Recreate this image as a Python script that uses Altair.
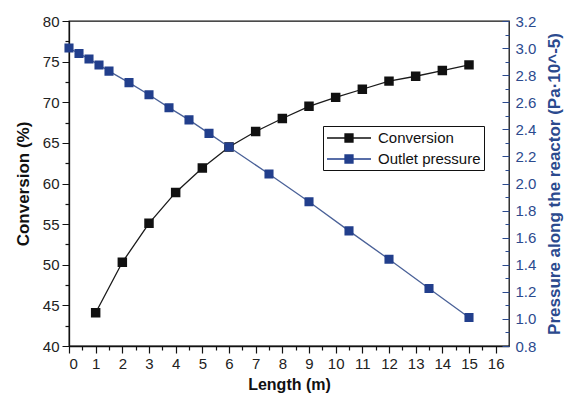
import altair as alt
import pandas as pd

# ---- data ----
length_conv = [1, 2, 3, 4, 5, 6, 7, 8, 9, 10, 11, 12, 13, 14, 15]
conversion = [44.1, 50.3, 55.1, 58.9, 61.9, 64.5, 66.4, 68.0, 69.5, 70.6, 71.6, 72.6, 73.2, 73.9, 74.6]

length_pres = [0, 0.375, 0.75, 1.125, 1.5, 2.25, 3, 3.75, 4.5, 5.25, 6, 7.5, 9, 10.5, 12, 13.5, 15]
pressure = [3.0, 2.96, 2.92, 2.875, 2.83, 2.745, 2.655, 2.56, 2.47, 2.37, 2.27, 2.07, 1.865, 1.65, 1.44, 1.225, 1.01]

series_names = ["Conversion", "Outlet pressure"]
x_ticks = [i * 0.5 for i in range(33)]
conv_ticks = [40 + i * 2.5 for i in range(17)]
pres_ticks = [round(0.8 + i * 0.1, 1) for i in range(25)]

BLUE = "#223f8c"
BLUE_LINE = "#4a6198"
BLUE_TEXT = "#2b4a8e"
FONT = "Liberation Sans"

conv_df = pd.DataFrame({"length": length_conv, "value": conversion, "series": series_names[0]})
pres_df = pd.DataFrame({"length": length_pres, "value": pressure, "series": series_names[1]})

x_enc = alt.X(
    "length:Q",
    scale=alt.Scale(domain=[0, 16.5], nice=False, zero=False),
    axis=alt.Axis(
        title="Length (m)",
        values=x_ticks,
        labelExpr="datum.value % 1 === 0 ? format(datum.value, 'd') : ''",
        labelOverlap=False,
        tickSize=7,
        tickDash={"condition": {"test": "datum.value % 1 === 0", "value": [1, 0]}, "value": [4, 20]},
        labelPadding=3,
        titlePadding=5,
        grid=False,
    ),
)

sym_path = "M-1,0H1.25M2.25,0H4.5M1.25,-0.5H2.25V0.5H1.25Z"
fill_scale = alt.Scale(domain=series_names, range=["#111111", BLUE])
legend = alt.Legend(
    title=None,
    orient="none",
    legendX=254,
    legendY=105,
    symbolType=sym_path,
    symbolSize=256,
    symbolStrokeWidth=1.3,
    symbolOpacity=1,
    labelOffset=34,
    labelFontSize=15,
    labelFont=FONT,
    labelColor="#111111",
    rowPadding=4,
    padding=3,
    strokeColor="#111111",
    fillColor="white",
)

# ---- conversion (left axis) ----
conv_y = alt.Y(
    "value:Q",
    scale=alt.Scale(domain=[40, 80], nice=False, zero=False),
    axis=alt.Axis(
        title="Conversion (%)",
        orient="left",
        values=conv_ticks,
        labelExpr="datum.value % 5 === 0 ? format(datum.value, 'd') : ''",
        labelOverlap=False,
        tickSize=7,
        tickDash={"condition": {"test": "datum.value % 5 === 0", "value": [1, 0]}, "value": [4, 20]},
        labelPadding=3,
        titlePadding=10,
        titleFontSize=17,
        grid=False,
    ),
)
conv_base = alt.Chart(conv_df).encode(x=x_enc, y=conv_y)
conv_layer = alt.layer(
    conv_base.mark_line(color="#1a1a1a", strokeWidth=1.3),
    conv_base.mark_square(size=56, opacity=1, filled=True).encode(
        fill=alt.Fill("series:N", scale=fill_scale, legend=legend),
        stroke=alt.Stroke("series:N", scale=fill_scale, legend=legend),
    ),
)

# ---- pressure (right axis, ticks pointing inward) ----
pres_y = alt.Y(
    "value:Q",
    scale=alt.Scale(domain=[0.8, 3.2], nice=False, zero=False),
    axis=alt.Axis(
        title="Pressure along the reactor (Pa·10^-5)",
        orient="right",
        values=pres_ticks,
        labelExpr="round(datum.value * 10) % 2 === 0 ? format(datum.value, '.1f') : ''",
        labelOverlap=False,
        offset=-7,
        tickSize=7,
        tickDash={"condition": {"test": "round(datum.value * 10) % 2 === 0", "value": [1, 0]},
                  "value": [0, 3, 4, 20]},
        domain=False,
        labelPadding=6,
        labelColor=BLUE_TEXT,
        tickColor=BLUE_TEXT,
        titleColor=BLUE_TEXT,
        titleAngle=270,
        titleFontSize=17,
        titlePadding=28,
        grid=False,
    ),
)
pres_base = alt.Chart(pres_df).encode(x=x_enc, y=pres_y)
pres_layer = alt.layer(
    pres_base.mark_line(color=BLUE_LINE, strokeWidth=1.3),
    pres_base.mark_square(size=50, opacity=1, filled=True).encode(
        fill=alt.Fill("series:N", scale=fill_scale, legend=legend),
        stroke=alt.Stroke("series:N", scale=fill_scale, legend=legend),
    ),
)

chart = (
    alt.layer(conv_layer, pres_layer)
    .resolve_scale(y="independent")
    .properties(
        width=440,
        height=325,
        autosize=alt.AutoSizeParams(type="none"),
        padding={"left": 61, "top": 13, "right": 60, "bottom": 47},
        background="white",
    )
    .configure_view(stroke="#111111", strokeWidth=1.3)
    .configure_axis(
        labelFont=FONT,
        titleFont=FONT,
        labelFontSize=15,
        titleFontSize=16,
        titleFontWeight="bold",
        labelColor="#222222",
        titleColor="#111111",
        domainColor="#111111",
        tickColor="#111111",
        domainWidth=1.3,
        tickWidth=1.2,
    )
)

chart.save("out.html", embed_options={"renderer": "svg", "actions": False})
